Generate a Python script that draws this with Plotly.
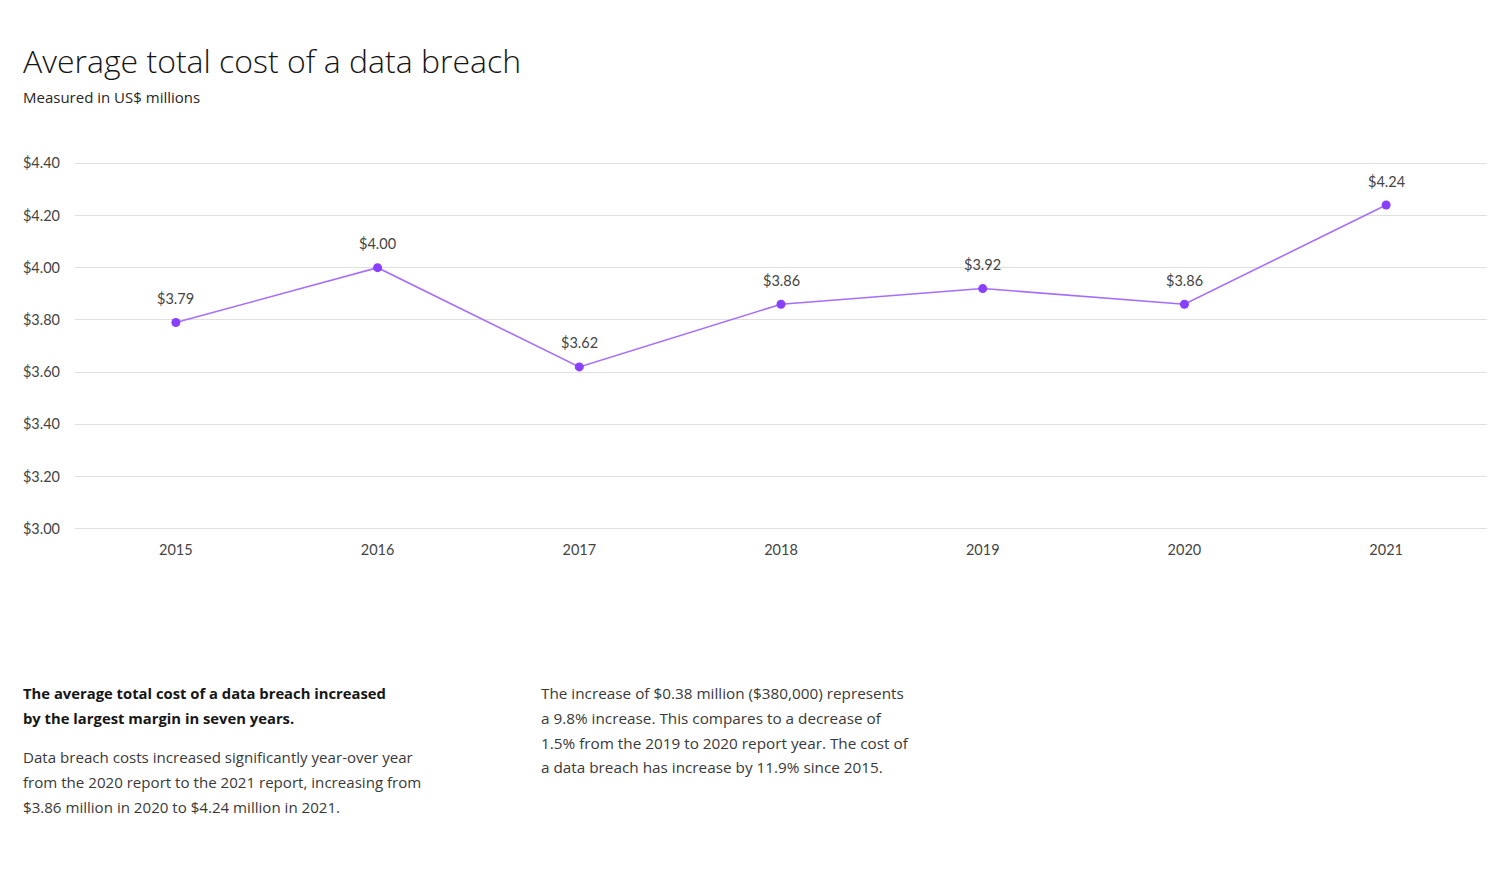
import plotly.graph_objects as go

years = ["2015", "2016", "2017", "2018", "2019", "2020", "2021"]
cost = [3.79, 4.00, 3.62, 3.86, 3.92, 3.86, 4.24]
y_ticks = [3.0, 3.2, 3.4, 3.6, 3.8, 4.0, 4.2, 4.4]
y_tick_labels = ["$3.00", "$3.20", "$3.40", "$3.60", "$3.80", "$4.00", "$4.20", "$4.40"]

title = "Average total cost of a data breach"
subtitle = "Measured in US$ millions"
bold_lines = ["The average total cost of a data breach increased",
              "by the largest margin in seven years."]
body_left = ["Data breach costs increased significantly year-over year",
             "from the 2020 report to the 2021 report, increasing from",
             "$3.86 million in 2020 to $4.24 million in 2021."]
body_right = ["The increase of $0.38 million ($380,000) represents",
              "a 9.8% increase. This compares to a decrease of",
              "1.5% from the 2019 to 2020 report year. The cost of",
              "a data breach has increase by 11.9% since 2015."]

OFF = 8  # page body margin
Y0, Y1, PAD = 3.0, 4.4, 0.02
pix_per_unit = (529 - 163) / (Y1 - Y0)
padpx = PAD * pix_per_unit
W, H = 1484, 868
L = 75 - OFF
T = 163 - OFF - padpx
R = W - (1487 - OFF)
B = H - (529 - OFF) - padpx
PW, PH = W - L - R, H - T - B

def px(x):
    return (x - OFF - L) / PW

def py(y):
    return (H - B - (y - OFF)) / PH

fig = go.Figure()
fig.add_trace(go.Scatter(
    x=years, y=cost,
    mode="lines+markers",
    line=dict(color="#a56eff", width=1.6),
    marker=dict(color="#8a3ffc", size=9),
    cliponaxis=False,
    hoverinfo="skip",
))

annotations = []
for i, v in enumerate(cost):
    annotations.append(dict(
        x=i, y=v, xref="x", yref="y", text=f"${v:.2f}",
        showarrow=False, yshift=24, yanchor="middle", xanchor="center",
        font=dict(family="Lato", size=14.5, color="#444444"),
    ))

def add(text, x, y, size, color, family="Open Sans", weight=400):
    annotations.append(dict(
        text=text, xref="paper", yref="paper", x=px(x), y=py(y),
        xanchor="left", yanchor="middle", showarrow=False,
        font=dict(family=family, size=size, color=color, weight=weight),
    ))

add(title, 21, 60, 32, "#161616", weight=300)
add(subtitle, 21, 97, 15, "#262626")
for i, t in enumerate(bold_lines):
    add(t, 21, 693 + 25 * i, 14.8, "#161616", weight=700)
for i, t in enumerate(body_left):
    add(t, 21, 758 + 25 * i, 15.1, "#393939")
for i, t in enumerate(body_right):
    add(t, 539, 693 + 25 * i, 15.3, "#393939")

fig.update_layout(
    width=W, height=H,
    margin=dict(l=L, r=R, t=T, b=B),
    paper_bgcolor="white", plot_bgcolor="white",
    showlegend=False,
    annotations=annotations,
    xaxis=dict(
        type="category", range=[-0.5, 6.5],
        showgrid=False, zeroline=False, showline=False,
        ticks="", tickfont=dict(family="Lato", size=14.5, color="#444444"),
        ticklabelstandoff=int(round(10 - padpx)), fixedrange=True,
    ),
    yaxis=dict(
        range=[Y0 - PAD, Y1 + PAD], tickvals=y_ticks, ticktext=y_tick_labels,
        showgrid=True, gridcolor="#e0e0e0", gridwidth=1,
        zeroline=False, showline=False, ticks="",
        tickfont=dict(family="Lato", size=14.5, color="#444444"),
        ticklabelstandoff=14, fixedrange=True,
    ),
)

fig.write_html("out.html")
